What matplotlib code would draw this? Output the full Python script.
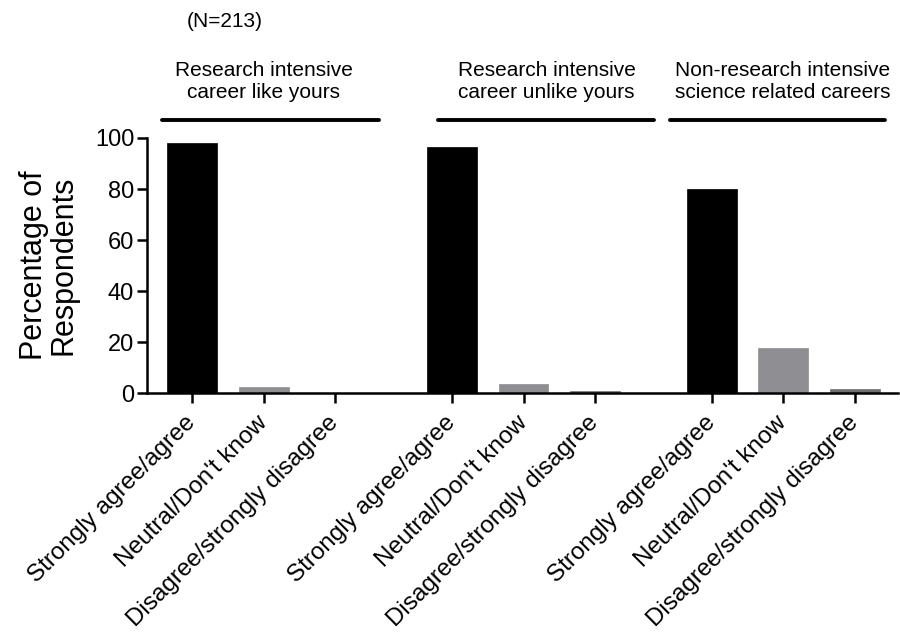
import matplotlib
matplotlib.use('Agg')
import matplotlib.pyplot as plt

plt.rcParams['font.family'] = ['Liberation Sans', 'DejaVu Sans']

# data
responses = ['Strongly agree/agree', 'Neutral/Don\'t know', 'Disagree/strongly disagree']
groups = ['Research intensive\ncareer like yours',
          'Research intensive\ncareer unlike yours',
          'Non-research intensive\nscience related careers']
agree = [98, 96.5, 80]
neutral = [2.4, 3.5, 17.6]
disagree = [0, 0.9, 1.6]
n_label = '(N=213)'

bar_colors = ['#000000', '#8f8f93', '#6f6f6f']

fig = plt.figure(figsize=(9, 6.33), dpi=100)
ax = fig.add_axes([0.163, 0.379, 0.835, 0.403])

group_gap = 0.645
xs = []
vals = []
cols = []
labels = []
for g in range(3):
    gv = [agree[g], neutral[g], disagree[g]]
    for k in range(3):
        xs.append(g * (3 + group_gap) + k)
        vals.append(gv[k])
        cols.append(bar_colors[k])
        labels.append(responses[k])

ax.bar(xs, vals, width=0.7, color=cols, edgecolor=cols, linewidth=0.5)

ax.set_ylim(0, 100)
ax.set_xlim(-0.64, 9.9)
ax.set_yticks([0, 20, 40, 60, 80, 100])
ax.set_xticks(xs)
ax.set_xticklabels(labels, rotation=45, ha='right', va='center',
                   rotation_mode='anchor', fontsize=17.5)
ax.tick_params(axis='x', pad=12)
ax.tick_params(axis='both', direction='out', length=7, width=1.8)
ax.tick_params(axis='y', labelsize=17, pad=2)

for s in ['top', 'right']:
    ax.spines[s].set_visible(False)
for s in ['left', 'bottom']:
    ax.spines[s].set_linewidth(1.8)

ax.set_ylabel('Percentage of\nRespondents', fontsize=22, linespacing=0.95, labelpad=12)

# group headers with lines above the plot
line_spans = [(-0.42, 2.62), (3.45, 6.48), (6.70, 9.72)]
text_x = [1.0, 4.97, 8.28]
for g in range(3):
    x0, x1 = line_spans[g]
    ax.plot([x0, x1], [107, 107], color='black', lw=2.8,
            clip_on=False, solid_capstyle='round')
    ax.text(text_x[g], 114, groups[g], ha='center', va='bottom',
            fontsize=15, linespacing=1.2, clip_on=False)

ax.text(0.45, 145.5, n_label, ha='center', va='center', fontsize=15)

fig.savefig('out.png', dpi=100)
